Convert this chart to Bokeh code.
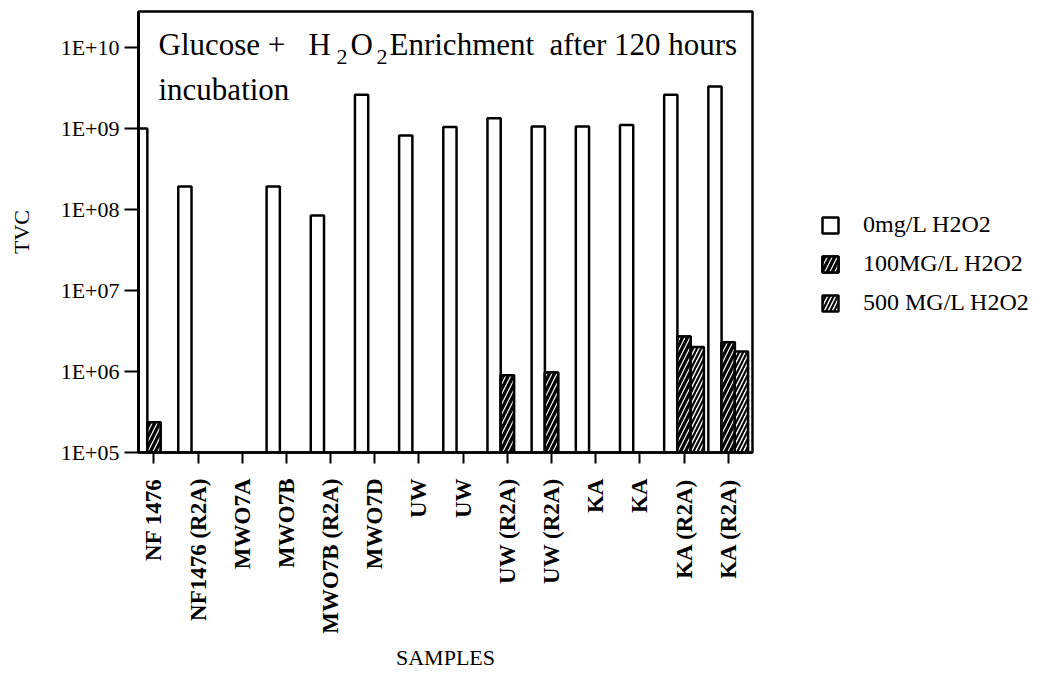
import numpy as np
from bokeh.plotting import figure
from bokeh.models import Range1d, FixedTicker, Legend, LegendItem, Label, ColumnDataSource
from bokeh.embed import file_html
from bokeh.resources import INLINE

nan = np.nan

# ---- data -------------------------------------------------------------
samples = ["NF 1476", "NF1476 (R2A)", "MWO7A", "MWO7B", "MWO7B (R2A)", "MWO7D",
           "UW", "UW", "UW (R2A)", "UW (R2A)", "KA", "KA", "KA (R2A)", "KA (R2A)"]
tvc_0mg = [1.0e9, 1.92e8, nan, 1.92e8, 8.4e7, 2.6e9,
           8.2e8, 1.04e9, 1.34e9, 1.06e9, 1.06e9, 1.1e9, 2.6e9, 3.3e9]
tvc_100mg = [2.36e5, nan, nan, nan, nan, nan,
             nan, nan, 9.0e5, 9.7e5, nan, nan, 2.7e6, 2.3e6]
tvc_500mg = [nan, nan, nan, nan, nan, nan,
             nan, nan, nan, nan, nan, nan, 2.0e6, 1.76e6]
series_labels = ["0mg/L H2O2", "100MG/L H2O2", "500 MG/L H2O2"]
y_ticks = [1e5, 1e6, 1e7, 1e8, 1e9, 1e10]
y_tick_labels = ["1E+05", "1E+06", "1E+07", "1E+08", "1E+09", "1E+10"]
x_title = "SAMPLES"
y_title = "TVC"

SERIF = "Liberation Serif"
DY = 11  # screen-unit correction for labels

idx = np.arange(len(samples), dtype=float)
src = ColumnDataSource(dict(x0=idx - 0.3, x1=idx, x2=idx + 0.3,
                            v0=tvc_0mg, v1=tvc_100mg, v2=tvc_500mg))

p = figure(frame_width=614, frame_height=441, y_axis_type="log",
           x_range=Range1d(-0.35, 13.55), y_range=Range1d(1e5, 2.78e10),
           output_backend="svg", toolbar_location=None,
           min_border_left=138, min_border_right=0,
           min_border_top=11, min_border_bottom=220)

p.xgrid.visible = False
p.ygrid.visible = False
p.outline_line_color = "black"
p.outline_line_width = 2.5
p.outline_line_alpha = 1.0
p.background_fill_color = "white"
p.border_fill_color = "white"

base = y_ticks[0]
bw = 0.3
r0 = p.vbar(x="x0", top="v0", bottom=base, width=bw, source=src,
            fill_color="white", line_color="black", line_width=2.5)
r1a = p.vbar(x="x1", top="v1", bottom=base, width=bw, source=src,
             fill_color="black", line_color="black", line_width=2.5)
r1b = p.vbar(x="x1", top="v1", bottom=base, width=bw, source=src,
             fill_alpha=0, line_color="black", line_width=2.5,
             hatch_pattern="/", hatch_color="white", hatch_weight=1.2, hatch_scale=10)
r2 = p.vbar(x="x2", top="v2", bottom=base, width=bw, source=src,
            fill_color="white", line_color="black", line_width=2.5,
            hatch_pattern="/", hatch_color="black", hatch_weight=2.2, hatch_scale=8)

# x axis
xa = p.xaxis[0]
xa.ticker = FixedTicker(ticks=list(range(len(samples))))
xa.major_label_overrides = {i: s for i, s in enumerate(samples)}
xa.major_label_orientation = np.pi / 2
xa.major_label_text_font = SERIF
xa.major_label_text_font_style = "bold"
xa.major_label_text_font_size = "23px"
xa.major_label_text_color = "black"
xa.major_label_standoff = 15
xa.major_tick_out = 11
xa.major_tick_in = 0
xa.major_tick_line_width = 2
xa.major_tick_line_color = "black"
xa.minor_tick_line_color = None
xa.axis_line_width = 2.5
xa.axis_line_color = "black"
xa.axis_label = x_title
xa.axis_label_text_font = SERIF
xa.axis_label_text_font_style = "normal"
xa.axis_label_text_font_size = "22px"
xa.axis_label_text_color = "black"
xa.axis_label_standoff = 8

# y axis
ya = p.yaxis[0]
ya.ticker = FixedTicker(ticks=y_ticks)
ya.major_label_overrides = {t: s for t, s in zip(y_ticks, y_tick_labels)}
ya.major_label_text_font = SERIF
ya.major_label_text_font_size = "22px"
ya.major_label_text_color = "black"
ya.major_label_standoff = 5
ya.major_tick_out = 14
ya.major_tick_in = 0
ya.major_tick_line_width = 2
ya.major_tick_line_color = "black"
ya.minor_tick_line_color = None
ya.axis_line_width = 3
ya.axis_line_color = "black"
ya.axis_label = y_title
ya.axis_label_text_font = SERIF
ya.axis_label_text_font_style = "normal"
ya.axis_label_text_font_size = "22px"
ya.axis_label_text_color = "black"
ya.axis_label_standoff = 24

# title inside the plot (with subscripts)
title_parts = [
    ("Glucose +", 20, 397, "31px"),
    ("H", 170, 397, "31px"),
    ("2", 198, 385, "22px"),
    ("O", 212, 397, "31px"),
    ("2", 238, 385, "22px"),
    ("Enrichment", 251, 397, "31px"),
    ("after 120 hours", 411, 397, "31px"),
    ("incubation", 20, 352, "31px"),
]
for txt, sx, sy, fs in title_parts:
    p.add_layout(Label(x=sx, y=sy + DY, x_units="screen", y_units="screen", text=txt,
                       text_font=SERIF, text_font_size=fs, text_color="black",
                       text_align="left", text_baseline="alphabetic"))

legend = Legend(items=[LegendItem(label=series_labels[0], renderers=[r0]),
                       LegendItem(label=series_labels[1], renderers=[r1a, r1b]),
                       LegendItem(label=series_labels[2], renderers=[r2])],
                location=(68, 136), orientation="vertical",
                border_line_color=None, background_fill_alpha=0,
                padding=0, margin=0, spacing=12,
                glyph_width=20, glyph_height=20, label_standoff=23,
                label_text_font=SERIF, label_text_font_size="24px",
                label_text_color="black")
p.add_layout(legend, "right")

open("out.html", "w").write(file_html(p, INLINE))
